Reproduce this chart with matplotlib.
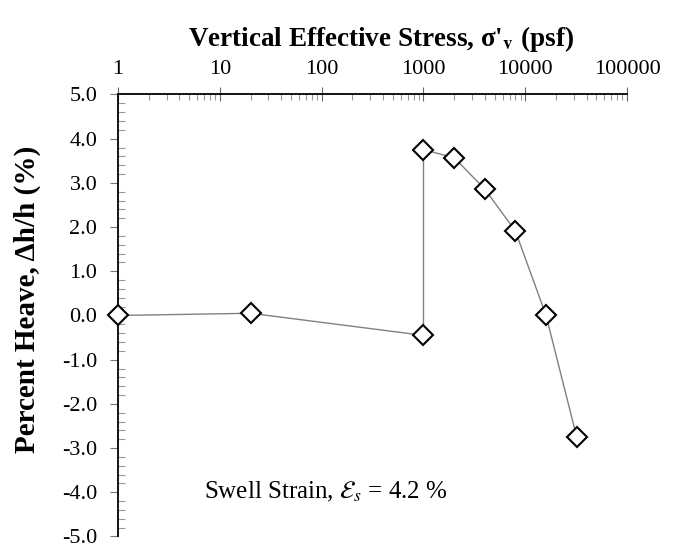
import matplotlib
matplotlib.use('Agg')
import matplotlib.pyplot as plt
from matplotlib.ticker import LogLocator, MultipleLocator, FixedLocator, NullFormatter

# Datos del ensayo de expansion
tension = [1, 20, 1000, 1000, 2000, 4000, 8000, 16000, 32000]
hinchamiento = [0.0, 0.05, -0.45, 3.75, 3.57, 2.86, 1.91, 0.0, -2.75]

valores_x = [1, 10, 100, 1000, 10000, 100000]
etiquetas_x = ['1', '10', '100', '1000', '10000', '100000']
valores_y = [-5, -4, -3, -2, -1, 0, 1, 2, 3, 4, 5]
etiquetas_y = ['%.1f' % v for v in valores_y]

plt.rcParams['font.family'] = 'Liberation Serif'
plt.rcParams['mathtext.fontset'] = 'stix'

fig = plt.figure(figsize=(6.75, 5.48), dpi=100)
ax = fig.add_axes([0.175, 0.021, 0.754, 0.8066])

# Linea gris y marcadores rombo
ax.plot(tension, hinchamiento, color='#808080', linewidth=1.0, zorder=2, clip_on=False)
ax.plot(tension, hinchamiento, linestyle='none', marker='D', markersize=10,
        markerfacecolor='white', markeredgecolor='black', markeredgewidth=1.5,
        zorder=3, clip_on=False)

ax.set_xscale('log')
ax.set_xlim(1, 100000)
ax.set_ylim(-5, 5)

# Eje x arriba
ax.xaxis.set_ticks_position('top')
ax.xaxis.set_label_position('top')
ax.xaxis.set_major_locator(FixedLocator(valores_x))
ax.set_xticklabels(etiquetas_x)
ax.xaxis.set_minor_locator(LogLocator(base=10, subs=range(2, 10)))
ax.xaxis.set_minor_formatter(NullFormatter())
ax.tick_params(axis='x', which='major', direction='inout', length=10, width=0.8,
               labelsize=16, pad=6, color='#666666')
ax.tick_params(axis='x', which='minor', direction='in', length=4, width=0.8, color='#999999')

ax.set_yticks(valores_y)
ax.set_yticklabels(etiquetas_y)
ax.yaxis.set_minor_locator(MultipleLocator(0.2))
ax.tick_params(axis='y', which='major', direction='out', length=6, width=0.8,
               labelsize=16, pad=9, color='#777777')
ax.tick_params(axis='y', which='minor', direction='in', length=5, width=0.8, color='#999999')

ax.spines['right'].set_visible(False)
ax.spines['bottom'].set_visible(False)
ax.spines['top'].set_linewidth(1.3)
ax.spines['left'].set_linewidth(1.3)

ax.set_xlabel("Vertical Effective Stress, σ'$_\\mathbf{v}$ (psf)",
              fontsize=19.5, fontweight='bold', labelpad=10)
ax.xaxis.label.set_x(0.516)
ax.set_ylabel('Percent Heave, Δh/h (%)', fontsize=21, fontweight='bold', labelpad=15)
ax.yaxis.label.set_y(0.536)

ax.text(110, -4.0, 'Swell Strain, $\\mathcal{E}_s$ = 4.2 %', fontsize=18,
        ha='center', va='center')

fig.savefig('out.png', dpi=100)
